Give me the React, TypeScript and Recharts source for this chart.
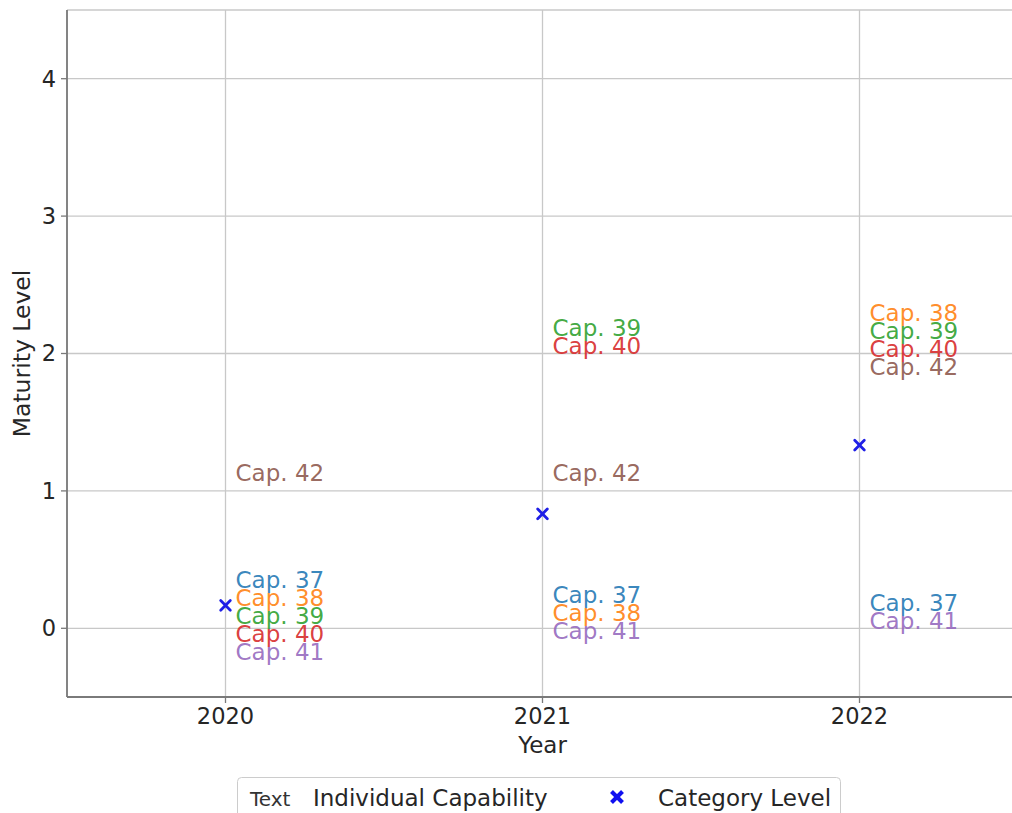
import React from 'react';
import { ScatterChart, Scatter, XAxis, YAxis, CartesianGrid, Legend, Label } from 'recharts';

// ---- data ----
const years = [2020, 2021, 2022];
const capabilities = ['Cap. 37', 'Cap. 38', 'Cap. 39', 'Cap. 40', 'Cap. 41', 'Cap. 42'];
const capColors = ['#1f77b4', '#ff7f0e', '#2ca02c', '#d62728', '#9467bd', '#8c564b'];
const levels2020 = [0, 0, 0, 0, 0, 1];
const levels2021 = [0, 0, 2, 2, 0, 1];
const levels2022 = [0, 2, 2, 2, 0, 2];
const categoryLevels = [0.167, 0.833, 1.333];
const yTicks = [0, 1, 2, 3, 4];
const legendNames = ['Individual Capability', 'Category Level'];

const FONT = '"DejaVu Sans", sans-serif';
const levelsByYear = [levels2020, levels2021, levels2022];

// Build label points: group by (year, level) and stack in capability order
type LabelPt = { x: number; y: number; name: string; color: string; idx: number; n: number };
const labelPoints: LabelPt[] = [];
years.forEach((yr, yi) => {
  const lv = levelsByYear[yi];
  const groups: Record<string, number[]> = {};
  lv.forEach((v, ci) => {
    const k = String(v);
    (groups[k] = groups[k] || []).push(ci);
  });
  Object.keys(groups).forEach((k) => {
    const members = groups[k];
    members.forEach((ci, i) => {
      labelPoints.push({ x: yr, y: lv[ci], name: capabilities[ci], color: capColors[ci], idx: i, n: members.length });
    });
  });
});

const categoryPoints = years.map((yr, i) => ({ x: yr, y: categoryLevels[i] }));

const LabelShape = (props: any) => {
  const { cx, cy, payload } = props;
  if (cx == null || cy == null) return null;
  const center = cy - 18 - 7.7 * (payload.n - 1) + 18 * payload.idx;
  return (
    <text x={cx + 10} y={center + 8.5} fill={payload.color} fontSize={23} fontFamily={FONT} fillOpacity={0.9}>
      {payload.name}
    </text>
  );
};

const XMarker = (props: any) => {
  const { cx, cy } = props;
  if (cx == null || cy == null) return null;
  const s = 4.8;
  return (
    <g stroke="#1f1fe6" strokeWidth={2.8} strokeLinecap="round">
      <line x1={cx - s} y1={cy - s} x2={cx + s} y2={cy + s} />
      <line x1={cx - s} y1={cy + s} x2={cx + s} y2={cy - s} />
    </g>
  );
};

const LegendContent = () => (
  <svg width={604} height={50} style={{ display: 'block' }}>
    <rect x={0.5} y={0.5} width={603} height={60} rx={4} ry={4} fill="#ffffff" stroke="#cccccc" strokeWidth={1} />
    <text x={13} y={29} fontSize={20} fontFamily={FONT} fill="#333">Text</text>
    <text x={76} y={29} fontSize={23} fontFamily={FONT} fill="#262626">{legendNames[0]}</text>
    <g stroke="#1010f0" strokeWidth={4} strokeLinecap="butt">
      <line x1={374.5} y1={14.5} x2={385.5} y2={25.5} />
      <line x1={374.5} y1={25.5} x2={385.5} y2={14.5} />
    </g>
    <text x={421} y={29} fontSize={23} fontFamily={FONT} fill="#262626">{legendNames[1]}</text>
  </svg>
);

export default function App() {
  return (
    <div style={{ position: 'fixed', left: 0, top: 0, width: 1012, height: 813, overflow: 'hidden', background: '#fff' }}>
      <ScatterChart width={1040} height={830} margin={{ top: 10, right: 22, bottom: 0, left: 0 }}>
        <CartesianGrid stroke="#c8c8c8" strokeWidth={1.3} />
        <XAxis
          dataKey="x"
          type="number"
          domain={[2019.5, 2022.5]}
          ticks={years}
          allowDataOverflow
          height={133}
          tickSize={6}
          tickMargin={5}
          tick={{ fontSize: 22.5, fill: '#262626', fontFamily: FONT }}
          axisLine={{ stroke: '#7a7a7a', strokeWidth: 1.8 }}
          tickLine={{ stroke: '#7a7a7a', strokeWidth: 1.3 }}
        >
          <Label
            content={(p: any) => {
              const vb = p.viewBox || {};
              return (
                <text x={vb.x + vb.width / 2} y={753} textAnchor="middle" fontSize={23} fontFamily={FONT} fill="#262626">
                  Year
                </text>
              );
            }}
          />
        </XAxis>
        <XAxis
          xAxisId="top"
          orientation="top"
          type="number"
          domain={[2019.5, 2022.5]}
          height={0}
          tick={false}
          tickLine={false}
          axisLine={{ stroke: '#7a7a7a', strokeWidth: 1.8 }}
        />
        <YAxis
          dataKey="y"
          type="number"
          domain={[-0.5, 4.5]}
          ticks={yTicks}
          allowDataOverflow
          width={67}
          tickSize={6}
          tickMargin={5}
          tick={{ fontSize: 22.5, fill: '#262626', fontFamily: FONT }}
          axisLine={{ stroke: '#7a7a7a', strokeWidth: 1.8 }}
          tickLine={{ stroke: '#7a7a7a', strokeWidth: 1.3 }}
        >
          <Label
            content={(p: any) => {
              const vb = p.viewBox || {};
              const cy = vb.y + vb.height / 2;
              return (
                <text x={30} y={cy} transform={`rotate(-90 30 ${cy})`} textAnchor="middle" fontSize={23.5} fontFamily={FONT} fill="#262626">
                  Maturity Level
                </text>
              );
            }}
          />
        </YAxis>
        <Scatter name={legendNames[0]} data={labelPoints} shape={LabelShape} isAnimationActive={false} />
        <Scatter name={legendNames[1]} data={categoryPoints} shape={XMarker} isAnimationActive={false} />
        <Legend
          layout="horizontal"
          verticalAlign="middle"
          align="center"
          content={LegendContent}
          wrapperStyle={{ position: 'absolute', left: 237, top: 777, width: 604, height: 50 }}
        />
      </ScatterChart>
    </div>
  );
}
